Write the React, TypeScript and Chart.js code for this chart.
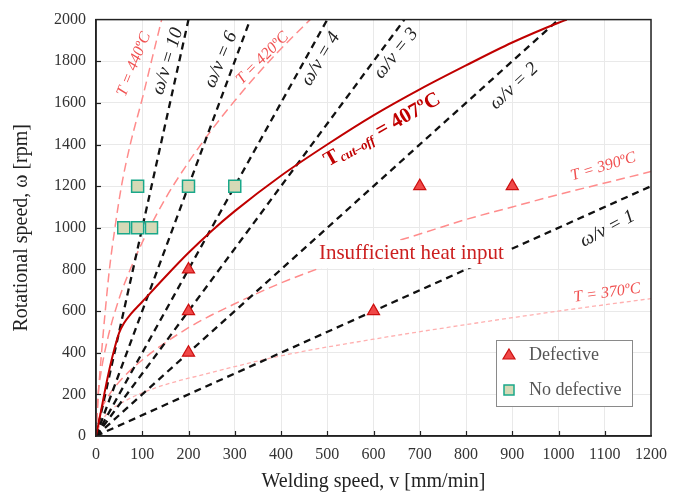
import React, { useEffect, useRef } from 'react';
import { Chart, registerables } from 'chart.js';

Chart.register(...registerables);

const SERIF = '"Liberation Serif", "Times New Roman", serif';

// axis ranges and ticks
const xMin = 0, xMax = 1200, xStep = 100;
const yMin = 0, yMax = 2000, yStep = 200;

// experimental points
const defectiveV = [200, 200, 200, 600, 700, 900];
const defectiveW = [400, 600, 800, 600, 1200, 1200];
const noDefectV = [60, 90, 120, 90, 200, 300];
const noDefectW = [1000, 1000, 1000, 1200, 1200, 1200];

// omega/v = const lines (end points)
const ratio10V = [0, 200];
const ratio10W = [0, 2000];
const ratio6V = [0, 333.3];
const ratio6W = [0, 2000];
const ratio4V = [0, 500];
const ratio4W = [0, 2000];
const ratio3V = [0, 666.7];
const ratio3W = [0, 2000];
const ratio2V = [0, 1000];
const ratio2W = [0, 2000];
const ratio1V = [0, 1200];
const ratio1W = [0, 1200];

// isotherms
const t440V = [0, 5, 12, 20, 29, 41, 55, 74, 100, 122, 142];
const t440W = [0, 200, 400, 600, 800, 1000, 1200, 1400, 1620, 1820, 2000];
const t420V = [0, 5, 10, 25, 50, 75, 100, 150, 200, 250, 300, 350, 400, 463];
const t420W = [0, 210, 295, 465, 660, 805, 930, 1140, 1315, 1470, 1610, 1740, 1860, 2000];
const t390V = [0, 10, 25, 50, 100, 200, 300, 400, 500, 600, 700, 800, 900, 1000, 1100, 1200];
const t390W = [0, 116, 185, 260, 365, 520, 635, 735, 820, 900, 970, 1040, 1100, 1160, 1215, 1270];
const t370V = [0, 10, 25, 60, 130, 250, 400, 600, 800, 1000, 1200];
const t370W = [0, 60, 110, 165, 232, 305, 385, 465, 535, 600, 660];
const cutV = [0, 10, 20, 30, 40, 50, 60, 75, 100, 150, 200, 250, 300, 400, 500, 600, 700, 800, 900, 1000, 1018];
const cutW = [0, 110, 225, 330, 420, 495, 540, 585, 645, 765, 880, 985, 1080, 1250, 1400, 1540, 1665, 1780, 1890, 1985, 2000];

const pts = (v: number[], w: number[]) => v.map((x, i) => ({ x, y: w[i] }));

// text annotations (data coordinates, angle in degrees)
type Ann = { text: string; v: number; w: number; angle: number; font: string; color: string; bg?: boolean };
const annotations: Ann[] = [
  { text: 'T = 440ºC', v: 82, w: 1785, angle: -68, font: `italic 16px ${SERIF}`, color: '#f05050' },
  { text: 'ω/v = 10', v: 155, w: 1800, angle: -73, font: `italic 19px ${SERIF}`, color: '#222' },
  { text: 'ω/v = 6', v: 270, w: 1807, angle: -67, font: `italic 19px ${SERIF}`, color: '#222' },
  { text: 'T = 420ºC', v: 360, w: 1814, angle: -45, font: `italic 16px ${SERIF}`, color: '#f05050' },
  { text: 'ω/v = 4', v: 486, w: 1811, angle: -59, font: `italic 19px ${SERIF}`, color: '#222' },
  { text: 'ω/v = 3', v: 649, w: 1838, angle: -51, font: `italic 19px ${SERIF}`, color: '#222' },
  { text: 'ω/v = 2', v: 904, w: 1680, angle: -43, font: `italic 19px ${SERIF}`, color: '#222' },
  { text: 'T = 390ºC', v: 1097, w: 1293, angle: -16.7, font: `italic 16px ${SERIF}`, color: '#f05050' },
  { text: 'ω/v = 1', v: 1106, w: 995, angle: -28, font: `italic 19px ${SERIF}`, color: '#222' },
  { text: 'T = 370ºC', v: 1105, w: 687, angle: -8, font: `italic 16px ${SERIF}`, color: '#f05050' },
  { text: 'Insufficient heat input', v: 682, w: 878, angle: 0, font: `21px ${SERIF}`, color: '#cc1f1f', bg: true },
];
const cutLabel = { v: 619, w: 1470, angle: -29.5 };

const legendItems = ['Defective', 'No defective'];

const annotationPlugin = {
  id: 'annotations',
  afterDatasetsDraw(chart: any) {
    const { ctx, scales } = chart;
    const xs = scales.x, ys = scales.y;
    ctx.save();
    for (const a of annotations) {
      const px = xs.getPixelForValue(a.v);
      const py = ys.getPixelForValue(a.w);
      ctx.save();
      ctx.translate(px, py);
      ctx.rotate((a.angle * Math.PI) / 180);
      ctx.font = a.font;
      ctx.textAlign = 'center';
      ctx.textBaseline = 'middle';
      if (a.bg) {
        const wd = ctx.measureText(a.text).width;
        ctx.fillStyle = '#fff';
        ctx.fillRect(-wd / 2 - 4, -13, wd + 8, 28);
      }
      ctx.fillStyle = a.color;
      ctx.fillText(a.text, 0, 0);
      ctx.restore();
    }
    // cut-off label with subscript
    {
      const px = xs.getPixelForValue(cutLabel.v);
      const py = ys.getPixelForValue(cutLabel.w);
      ctx.save();
      ctx.translate(px, py);
      ctx.rotate((cutLabel.angle * Math.PI) / 180);
      ctx.fillStyle = '#c00000';
      ctx.textBaseline = 'middle';
      ctx.textAlign = 'left';
      const f1 = `bold 21px ${SERIF}`;
      const f2 = `bold italic 13px ${SERIF}`;
      const p1 = 'T', p2 = 'cut–off', p3 = ' = 407ºC';
      ctx.font = f1; const w1 = ctx.measureText(p1).width;
      const w3 = ctx.measureText(p3).width;
      ctx.font = f2; const w2 = ctx.measureText(p2).width;
      let x = -(w1 + w2 + w3 + 2) / 2;
      ctx.font = f1; ctx.fillText(p1, x, 0); x += w1 + 1;
      ctx.font = f2; ctx.fillText(p2, x, 5); x += w2 + 1;
      ctx.font = f1; ctx.fillText(p3, x, 0);
      ctx.restore();
    }
    ctx.restore();
  },
  afterDraw(chart: any) {
    const { ctx, chartArea, scales } = chart;
    const { left, right, top, bottom } = chartArea;
    ctx.save();
    // inner ticks
    ctx.strokeStyle = '#222';
    ctx.lineWidth = 1.2;
    for (let v = xMin + xStep; v < xMax; v += xStep) {
      const px = Math.round(scales.x.getPixelForValue(v)) + 0.5;
      ctx.beginPath(); ctx.moveTo(px, bottom); ctx.lineTo(px, bottom - 5); ctx.stroke();
    }
    for (let w = yMin + yStep; w < yMax; w += yStep) {
      const py = Math.round(scales.y.getPixelForValue(w)) + 0.5;
      ctx.beginPath(); ctx.moveTo(left, py); ctx.lineTo(left + 5, py); ctx.stroke();
    }
    // frame
    ctx.strokeStyle = '#222';
    ctx.lineWidth = 1.5;
    ctx.strokeRect(left, top, right - left, bottom - top);
    // legend
    const bx = right - 155, by = bottom - 96, bw = 136, bh = 66;
    ctx.fillStyle = '#fff';
    ctx.fillRect(bx, by, bw, bh);
    ctx.strokeStyle = '#8a8a8a';
    ctx.lineWidth = 1;
    ctx.strokeRect(bx + 0.5, by + 0.5, bw, bh);
    const ix = bx + 13;
    const y1 = by + 15, y2 = by + 50;
    // triangle
    ctx.beginPath();
    ctx.moveTo(ix, y1 - 6);
    ctx.lineTo(ix + 6, y1 + 4);
    ctx.lineTo(ix - 6, y1 + 4);
    ctx.closePath();
    ctx.fillStyle = '#f04848';
    ctx.fill();
    ctx.strokeStyle = '#cc1010';
    ctx.lineWidth = 1.2;
    ctx.stroke();
    // square
    ctx.fillStyle = '#d5d9b6';
    ctx.fillRect(ix - 5, y2 - 5, 10, 10);
    ctx.strokeStyle = '#1aa88a';
    ctx.lineWidth = 1.5;
    ctx.strokeRect(ix - 5, y2 - 5, 10, 10);
    ctx.fillStyle = '#555';
    ctx.font = `18px ${SERIF}`;
    ctx.textAlign = 'left';
    ctx.textBaseline = 'middle';
    ctx.fillText(legendItems[0], bx + 33, y1);
    ctx.fillText(legendItems[1], bx + 33, y2);
    ctx.restore();
  },
};

const dashLine = (label: string, v: number[], w: number[]) => ({
  label,
  data: pts(v, w),
  borderColor: '#111',
  borderWidth: 2.3,
  borderDash: [7, 5],
  pointRadius: 0,
  fill: false,
  tension: 0,
});

const isoLine = (label: string, v: number[], w: number[], dash: number[], color: string, width: number) => ({
  label,
  data: pts(v, w),
  borderColor: color,
  borderWidth: width,
  borderDash: dash,
  pointRadius: 0,
  fill: false,
  cubicInterpolationMode: 'monotone' as const,
});

export default function App() {
  const ref = useRef<HTMLCanvasElement | null>(null);
  useEffect(() => {
    if (!ref.current) return;
    const tickFont = { family: SERIF, size: 16 };
    const chart = new Chart(ref.current, {
      type: 'line',
      data: {
        datasets: [
          {
            label: 'Defective',
            data: pts(defectiveV, defectiveW),
            showLine: false,
            pointStyle: 'triangle',
            pointRadius: 7,
            pointBackgroundColor: '#f04848',
            pointBorderColor: '#cc1010',
            pointBorderWidth: 1.2,
          } as any,
          {
            label: 'No defective',
            data: pts(noDefectV, noDefectW),
            showLine: false,
            pointStyle: 'rect',
            pointRadius: 8.5,
            pointBackgroundColor: '#d5d9b6',
            pointBorderColor: '#1aa88a',
            pointBorderWidth: 1.5,
          } as any,
          {
            label: 'T cut-off = 407ºC',
            data: pts(cutV, cutW),
            borderColor: '#c00000',
            borderWidth: 2,
            pointRadius: 0,
            fill: false,
            cubicInterpolationMode: 'monotone',
          } as any,
          dashLine('ω/v = 10', ratio10V, ratio10W),
          dashLine('ω/v = 6', ratio6V, ratio6W),
          dashLine('ω/v = 4', ratio4V, ratio4W),
          dashLine('ω/v = 3', ratio3V, ratio3W),
          dashLine('ω/v = 2', ratio2V, ratio2W),
          dashLine('ω/v = 1', ratio1V, ratio1W),
          isoLine('T = 440ºC', t440V, t440W, [9, 5], '#ff8c8c', 1.5),
          isoLine('T = 420ºC', t420V, t420W, [9, 5], '#ff8c8c', 1.5),
          isoLine('T = 390ºC', t390V, t390W, [9, 5], '#ff8c8c', 1.5),
          isoLine('T = 370ºC', t370V, t370W, [4, 3], '#ffb0b0', 1.3),
        ] as any,
      },
      options: {
        animation: false,
        responsive: false,
        devicePixelRatio: 1,
        layout: { padding: { top: 17, right: 30, left: 0, bottom: 0 } },
        plugins: { legend: { display: false }, tooltip: { enabled: false } },
        scales: {
          x: {
            type: 'linear',
            min: xMin,
            max: xMax,
            ticks: {
              stepSize: xStep, font: tickFont, color: '#333', padding: 9, maxRotation: 0, autoSkip: false,
              callback: (v: any) => String(v),
            },
            grid: { color: '#e9e9e9', drawTicks: false },
            border: { color: '#222', width: 1.5 },
            title: {
              display: true,
              text: 'Welding speed, v [mm/min]',
              font: { family: SERIF, size: 20 },
              color: '#222',
              padding: { top: 0, bottom: 0 },
            },
            afterFit: (s: any) => { s.height = 58; },
          },
          y: {
            type: 'linear',
            min: yMin,
            max: yMax,
            ticks: { stepSize: yStep, font: tickFont, color: '#333', padding: 10, callback: (v: any) => String(v) },
            grid: { color: '#e9e9e9', drawTicks: false },
            border: { color: '#222', width: 1.5 },
            title: {
              display: true,
              text: 'Rotational speed, ω [rpm]',
              font: { family: SERIF, size: 20 },
              color: '#222',
              padding: { top: 10, bottom: 0 },
            },
            afterFit: (s: any) => { s.width = 96; },
          },
        },
      } as any,
      plugins: [annotationPlugin],
    });
    return () => chart.destroy();
  }, []);
  return (
    <div style={{ position: 'absolute', left: 0, top: 0, width: 681, height: 494, background: '#fff' }}>
      <canvas ref={ref} width={681} height={494} style={{ display: 'block' }} />
    </div>
  );
}
